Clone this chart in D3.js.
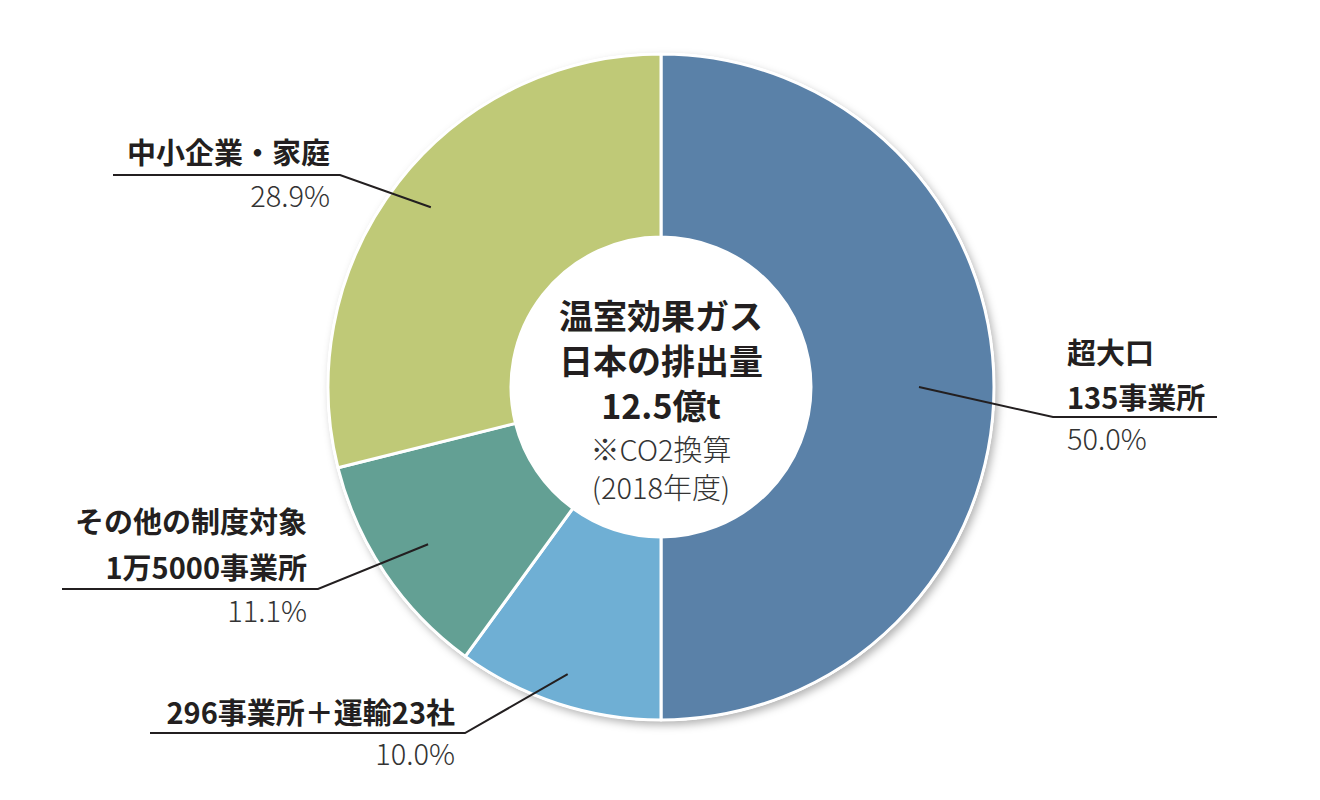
<!DOCTYPE html>
<html lang="ja">
<head>
<meta charset="utf-8">
<script src="https://cdn.jsdelivr.net/npm/d3@7"></script>
<style>
  body { margin: 0; background: #fff; }
  svg { display: block; }
</style>
</head>
<body>
<div id="chart"></div>
<script>
// data
const categories = ['超大口 135事業所', '296事業所＋運輸23社', 'その他の制度対象 1万5000事業所', '中小企業・家庭'];
const labelLines = [['超大口', '135事業所'], ['296事業所＋運輸23社'], ['その他の制度対象', '1万5000事業所'], ['中小企業・家庭']];
const shares = [50.0, 10.0, 11.1, 28.9];
const centerTitle = ['温室効果ガス', '日本の排出量', '12.5億t'];
const centerNote = ['※CO2換算', '(2018年度)'];

// style
const COLORS = ['#5a81a8', '#6fafd4', '#63a094', '#bfc977'];
const INK = '#231f20';
const FONT = '"Noto Sans CJK JP", "Noto Sans", sans-serif';
const W = 1320, H = 800;
const cx = 661, cy = 387, R = 333, r = 150;

// label layout: leader radius, elbow, rule end, text anchor
const layout = [
  { lr: 258, elbow: [1053, 417], end: 1217, anchor: 'start', tx: 1067, ys: [364, 409], py: 450 },
  { lr: 302, elbow: [465, 733], end: 150, anchor: 'end', tx: 455, ys: [724], py: 765 },
  { lr: 281, elbow: [318, 589], end: 62, anchor: 'end', tx: 307, ys: [533, 579], py: 622 },
  { lr: 292, elbow: [340, 175], end: 113, anchor: 'end', tx: 330, ys: [164], py: 207 },
];

const svg = d3.select('#chart').append('svg').attr('width', W).attr('height', H);
svg.append('rect').attr('width', W).attr('height', H).attr('fill', '#fff');

const defs = svg.append('defs');
const f = defs.append('filter').attr('id', 'sh').attr('x', '-20%').attr('y', '-20%').attr('width', '140%').attr('height', '140%');
f.append('feDropShadow').attr('dx', 3).attr('dy', 4).attr('stdDeviation', 4)
  .attr('flood-color', '#000').attr('flood-opacity', 0.3);

const g = svg.append('g').attr('transform', `translate(${cx},${cy})`);

const pie = d3.pie().sort(null).value((d) => d);
const arcs = pie(shares);
const arc = d3.arc().innerRadius(r).outerRadius(R);

// shadow disc
g.append('circle').attr('r', R + 1).attr('fill', '#fff').attr('filter', 'url(#sh)');

g.selectAll('path.slice').data(arcs).join('path').attr('class', 'slice')
  .attr('d', arc)
  .attr('fill', (d, i) => COLORS[i])
  .attr('stroke', '#fff').attr('stroke-width', 3).attr('stroke-linejoin', 'round');

g.append('circle').attr('r', r - 1).attr('fill', '#fff');

// leaders + labels
arcs.forEach((d, i) => {
  const L = layout[i];
  const [sx, sy] = d3.arc().innerRadius(L.lr).outerRadius(L.lr).centroid(d);
  svg.append('polyline')
    .attr('points', [[cx + sx, cy + sy], L.elbow, [L.end, L.elbow[1]]].map((p) => p.join(',')).join(' '))
    .attr('fill', 'none').attr('stroke', INK).attr('stroke-width', 2);
  labelLines[i].forEach((t, j) => {
    svg.append('text').attr('x', L.tx).attr('y', L.ys[j]).attr('text-anchor', L.anchor)
      .attr('font-family', FONT).attr('font-weight', 700).attr('font-size', 29).attr('fill', INK)
      .text(t);
  });
  svg.append('text').attr('x', L.tx).attr('y', L.py).attr('text-anchor', L.anchor)
    .attr('font-family', FONT).attr('font-weight', 300).attr('font-size', 29).attr('fill', '#333')
    .text(d3.format('.1f')(shares[i]) + '%');
});

// center text
const titleY = [329, 374, 419];
const noteY = [461, 499];
centerTitle.forEach((t, j) => {
  svg.append('text').attr('x', cx).attr('y', titleY[j]).attr('text-anchor', 'middle')
    .attr('font-family', FONT).attr('font-weight', 700).attr('font-size', 34).attr('fill', INK)
    .text(t);
});
centerNote.forEach((t, j) => {
  svg.append('text').attr('x', cx).attr('y', noteY[j]).attr('text-anchor', 'middle')
    .attr('font-family', FONT).attr('font-weight', 300).attr('font-size', 29).attr('fill', '#333')
    .text(t);
});
</script>
</body>
</html>
